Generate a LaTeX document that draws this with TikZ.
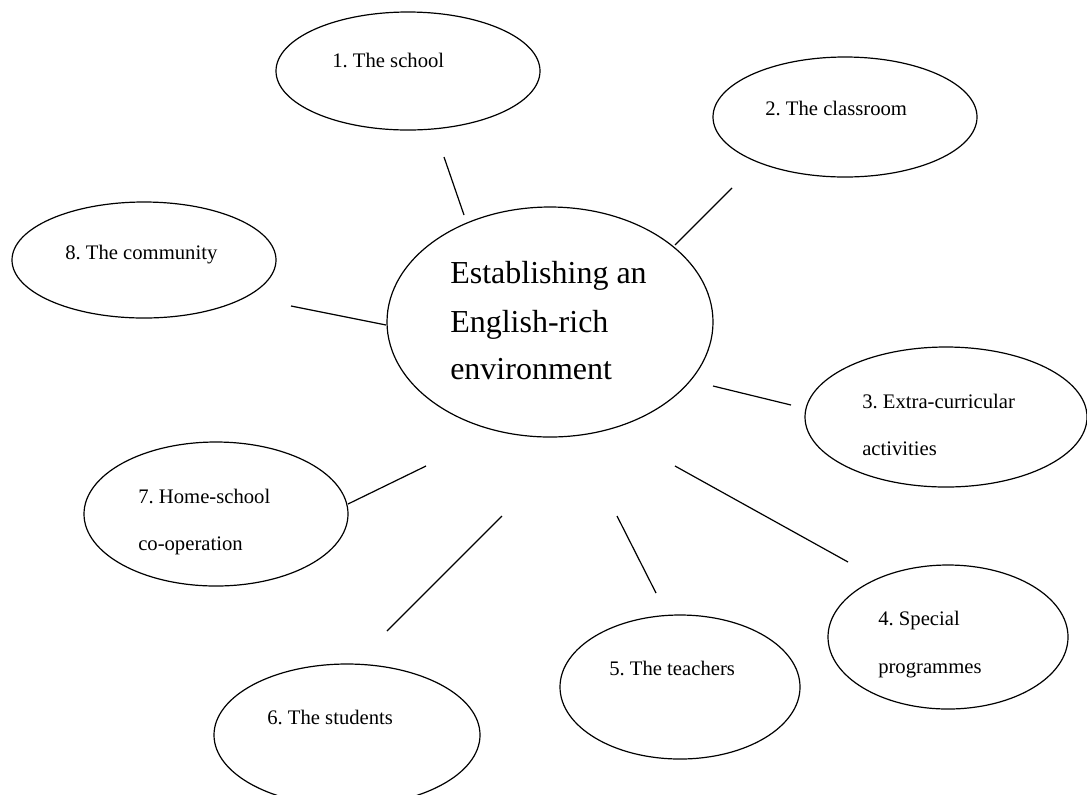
\documentclass[tikz,border=0pt]{standalone}
\usepackage{fontspec}
\setmainfont{Liberation Serif}
\usetikzlibrary{shapes.geometric}
\frenchspacing

\begin{document}
\begin{tikzpicture}[x=0.75pt,y=-0.75pt]
\tikzstyle{bubble} = [shape = ellipse,draw,line width = 0.9pt,inner sep=0pt]
\tikzstyle{txt} = [anchor = base west,inner sep=0pt,font=\fontsize{15.5}{18}\selectfont]
\tikzstyle{spoke} = [line width = 0.9pt]

\useasboundingbox (0,0) rectangle (1087,794);

% the hub and its eight bubbles
\node[bubble, minimum width=244.5pt, minimum height=172.5pt] (hub) at (550,322) {};
\node[bubble, minimum width=198pt, minimum height=88.5pt] (school) at (408,71) {};
\node[bubble, minimum width=198pt, minimum height=90pt] (classroom) at (845,117) {};
\node[bubble, minimum width=211.5pt, minimum height=105pt] (extra) at (946,417) {};
\node[bubble, minimum width=180pt, minimum height=108pt] (special) at (948,637) {};
\node[bubble, minimum width=180pt, minimum height=108pt] (teachers) at (680,687) {};
\node[bubble, minimum width=199.5pt, minimum height=106.5pt] (students) at (347,735) {};
\node[bubble, minimum width=198pt, minimum height=108pt] (home) at (216,514) {};
\node[bubble, minimum width=198pt, minimum height=87pt] (community) at (144,260) {};

% texts, left aligned inside the bubbles
\node[txt, font=\fontsize{24}{28}\selectfont] (hub1) at (450,283) {Establishing an};
\node[txt, font=\fontsize{24}{28}\selectfont] (hub2) at (450,332) {English-rich};
\node[txt, font=\fontsize{24}{28}\selectfont] (hub3) at (450,379) {environment};

\node[txt] (school1) at (332,67) {1. The school};
\node[txt] (classroom1) at (765,115) {2. The classroom};
\node[txt] (extra1) at (862,408) {3. Extra-curricular};
\node[txt] (extra2) at (862,455) {activities};
\node[txt] (special1) at (878,625) {4. Special};
\node[txt] (special2) at (878,673) {programmes};
\node[txt] (teachers1) at (609,675) {5. The teachers};
\node[txt] (students1) at (267,724) {6. The students};
\node[txt] (home1) at (138,503) {7. Home-school};
\node[txt] (home2) at (138,550) {co-operation};
\node[txt] (community1) at (65,259) {8. The community};

% spokes, loose between hub and bubbles
\coordinate (school-a) at (464,215);
\coordinate (school-b) at (444,157);
\draw[spoke] (school-a) -- (school-b);

\coordinate (classroom-a) at (675,245);
\coordinate (classroom-b) at (732,188);
\draw[spoke] (classroom-a) -- (classroom-b);

\coordinate (extra-a) at (713,386);
\coordinate (extra-b) at (791,405);
\draw[spoke] (extra-a) -- (extra-b);

\coordinate (special-a) at (675,466);
\coordinate (special-b) at (848,562);
\draw[spoke] (special-a) -- (special-b);

\coordinate (teachers-a) at (617,516);
\coordinate (teachers-b) at (656,593);
\draw[spoke] (teachers-a) -- (teachers-b);

\coordinate (students-a) at (502,516);
\coordinate (students-b) at (387,631);
\draw[spoke] (students-a) -- (students-b);

\coordinate (home-a) at (426,466);
\coordinate (home-b) at (348,504);
\draw[spoke] (home-a) -- (home-b);

\coordinate (community-a) at (386,325);
\coordinate (community-b) at (291,306);
\draw[spoke] (community-a) -- (community-b);

\end{tikzpicture}
\end{document}
